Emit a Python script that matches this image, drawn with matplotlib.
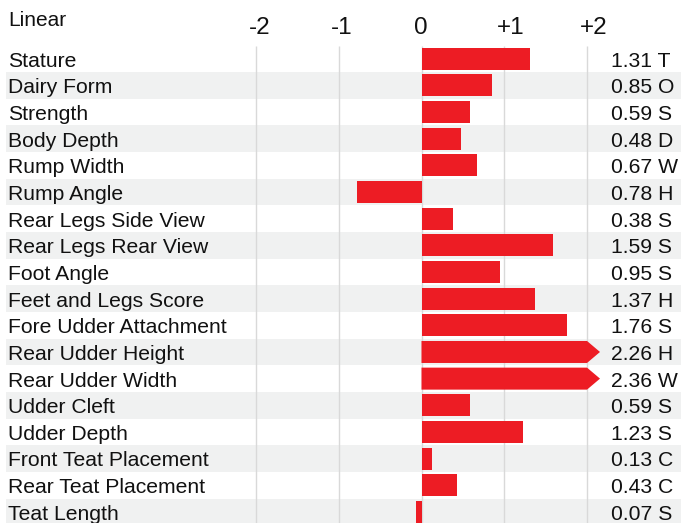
import matplotlib
matplotlib.use("Agg")
import matplotlib.pyplot as plt
import matplotlib.transforms as mtransforms
from matplotlib.patches import Polygon

plt.rcParams['font.family'] = ['Liberation Sans', 'DejaVu Sans']

traits = ["Stature", "Dairy Form", "Strength", "Body Depth", "Rump Width",
          "Rump Angle", "Rear Legs Side View", "Rear Legs Rear View",
          "Foot Angle", "Feet and Legs Score", "Fore Udder Attachment",
          "Rear Udder Height", "Rear Udder Width", "Udder Cleft",
          "Udder Depth", "Front Teat Placement", "Rear Teat Placement",
          "Teat Length"]
values = [1.31, 0.85, 0.59, 0.48, 0.67, -0.78, 0.38, 1.59, 0.95, 1.37,
          1.76, 2.26, 2.36, 0.59, 1.23, 0.13, 0.43, -0.07]
codes = ["T", "O", "S", "D", "W", "H", "S", "S", "S", "H", "S", "H", "W",
         "S", "S", "C", "C", "S"]
ticks = [-2, -1, 0, 1, 2]
tick_labels = ["-2", "-1", "0", "+1", "+2"]

W, H = 681, 523
RED = "#ed1c24"
BAND = "#f0f1f1"
GRID = "#d9d9d9"
TXT = "#111111"

fig = plt.figure(figsize=(W / 100, H / 100), dpi=100)
top_px = 45.5
row_px = 26.65
ax = fig.add_axes([6 / W, 0, (W - 6) / W, (H - top_px) / H])
unit = 82.75
x0 = 421.5 - 6
ax.set_xlim(-x0 / unit, (W - 6 - x0) / unit)
ax.set_ylim((H - top_px) / row_px, 0)
ax.axis("off")

n = len(traits)
# alternate grey rows
for i in range(n):
    if i % 2 == 1:
        ax.axhspan(i, i + 1, color=BAND, zorder=0, lw=0)
ax.vlines(ticks, 0, n, color=GRID, lw=1, zorder=1)

bh = 22 / row_px
tip = 13 / unit
for i, v in enumerate(values):
    yc = i + 0.5
    if abs(v) > 2:
        # off the scale: clip at 2 and draw an arrow head
        s = 1 if v > 0 else -1
        pts = [(0, yc - bh / 2), (s * 2, yc - bh / 2), (s * (2 + tip), yc),
               (s * 2, yc + bh / 2), (0, yc + bh / 2)]
        ax.add_patch(Polygon(pts, closed=True, color=RED, lw=0, zorder=2))
    else:
        ax.barh(yc, v, height=bh, color=RED, lw=0, zorder=2)

tr = mtransforms.blended_transform_factory(ax.transAxes, ax.transData)
base = 7.9 / row_px
for i, (t, v, c) in enumerate(zip(traits, values, codes)):
    ax.text(2.5 / (W - 6), i + 0.5 + base, t, transform=tr, fontsize=15.2,
            va="baseline", ha="left", color=TXT)
    ax.text((611 - 6) / (W - 6), i + 0.5 + base, f"{abs(v):.2f} {c}",
            transform=tr, fontsize=15.2, va="baseline", ha="left", color=TXT)

for t, lab in zip(ticks, tick_labels):
    ax.text(t - 7.5 / unit, -11 / row_px, lab, fontsize=17.5, va="baseline",
            ha="left", color=TXT, clip_on=False)

fig.text(8.5 / W, 1 - 26 / H, "Linear", fontsize=15, va="baseline",
         ha="left", color=TXT)

fig.savefig("out.png", dpi=100)
